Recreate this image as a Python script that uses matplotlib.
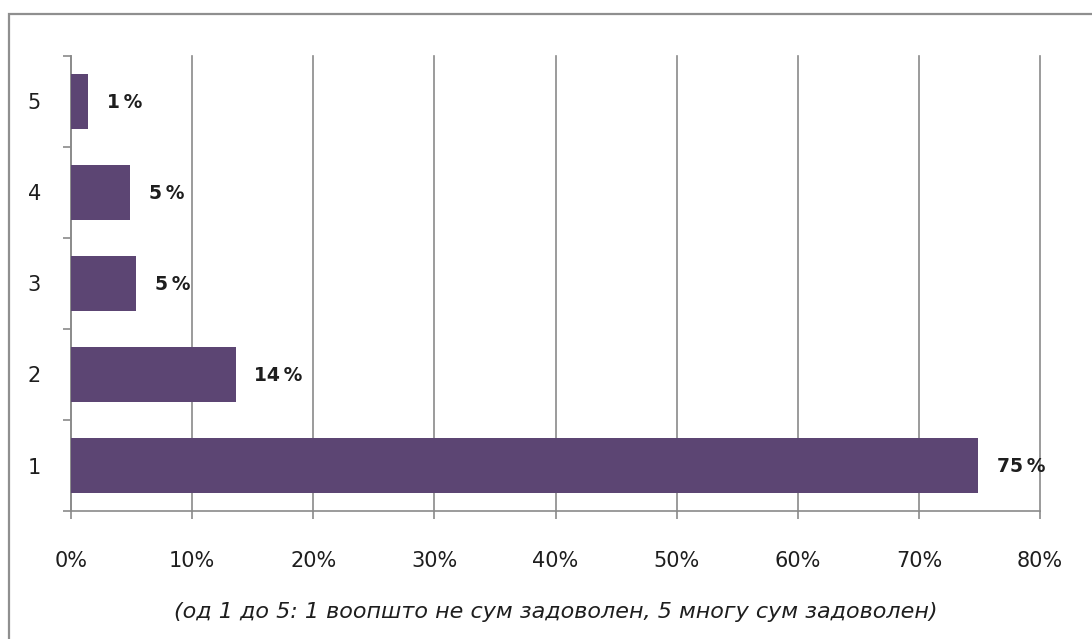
import matplotlib

matplotlib.use("Agg")
import matplotlib.pyplot as plt  # noqa: E402
from matplotlib.patches import Rectangle  # noqa: E402
from matplotlib.ticker import FixedLocator, PercentFormatter  # noqa: E402

# Survey answers on a 1-5 satisfaction scale, share of respondents (%).
CATEGORIES = ["1", "2", "3", "4", "5"]
SHARES = [74.9, 13.6, 5.4, 4.9, 1.4]
X_TICKS = [0, 10, 20, 30, 40, 50, 60, 70, 80]
X_LABEL = "(од 1 до 5: 1 воопшто не сум задоволен, 5 многу сум задоволен)"

BAR_COLOR = "#5c4573"
GRID_COLOR = "#8a8a8a"
TEXT_COLOR = "#1e1e1e"


def main() -> None:
    fig = plt.figure(figsize=(10.92, 6.39), dpi=100)
    ax = fig.add_axes([0.0650, 0.2003, 0.8874, 0.7121])

    # outer frame of the chart area, running off the right and bottom edges
    fig.patches.append(Rectangle((0.0085, -0.2), 1.5, 1.178,
                                 transform=fig.transFigure, fill=False,
                                 edgecolor="#8f8f8f", linewidth=1.6))

    pos = list(range(len(CATEGORIES)))
    ax.barh(pos, SHARES, height=0.6, color=BAR_COLOR, zorder=3)

    for y, v in zip(pos, SHARES):
        ax.annotate(f"{v:.0f}\u2009%", xy=(v, y), xytext=(13.5, -1),
                    textcoords="offset points", va="center", ha="left",
                    fontsize=13.5, fontweight="bold", color=TEXT_COLOR)

    ax.set_xlim(0, 80)
    ax.set_ylim(-0.5, len(CATEGORIES) - 0.5)

    ax.xaxis.set_major_locator(FixedLocator(X_TICKS))
    ax.xaxis.set_major_formatter(PercentFormatter(decimals=0))
    ax.grid(True, axis="x", color=GRID_COLOR, linewidth=1.2, zorder=0)
    # keep the 80% line at full width at the edge of the axes
    for line in ax.get_xgridlines():
        line.set_clip_on(False)

    ax.set_yticks(pos)
    ax.set_yticklabels(CATEGORIES)
    ax.yaxis.set_minor_locator(FixedLocator([p - 0.5 for p in range(len(CATEGORIES) + 1)]))

    ax.tick_params(axis="y", which="major", length=0, pad=21.5,
                   labelsize=15, labelcolor=TEXT_COLOR)
    ax.tick_params(axis="y", which="minor", length=6, width=1.2,
                   color=GRID_COLOR, direction="out")
    ax.tick_params(axis="x", which="major", length=6, width=1.2,
                   color=GRID_COLOR, direction="out", pad=23,
                   labelsize=15, labelcolor=TEXT_COLOR)

    for side in ("top", "right"):
        ax.spines[side].set_visible(False)
    for side in ("left", "bottom"):
        ax.spines[side].set_color(GRID_COLOR)
        ax.spines[side].set_linewidth(1.2)

    ax.set_xlabel(X_LABEL, fontsize=16, fontstyle="italic",
                  color=TEXT_COLOR, labelpad=22)

    fig.savefig("out.png", dpi=100)


if __name__ == "__main__":
    main()
